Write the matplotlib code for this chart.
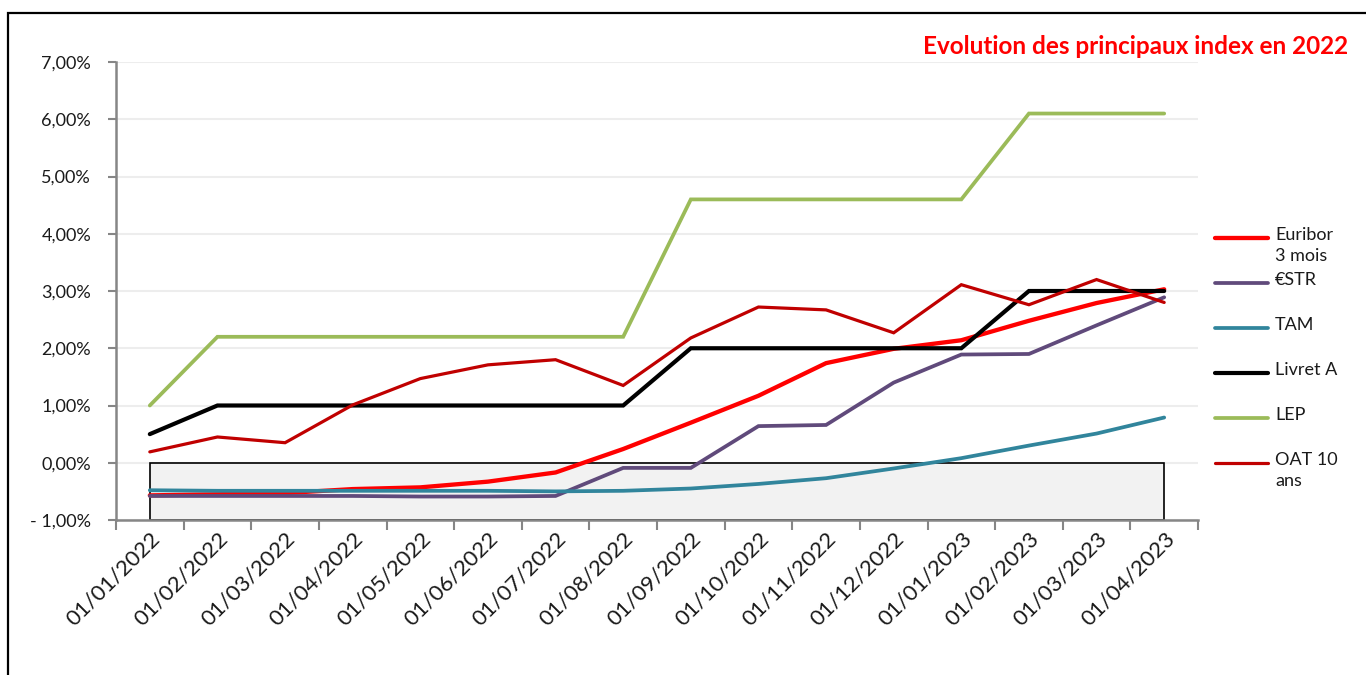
import matplotlib
matplotlib.use('agg')
import matplotlib.pyplot as plt
from matplotlib.patches import Rectangle
from matplotlib.lines import Line2D
import numpy as np

plt.rcParams['font.family'] = ['Lato', 'DejaVu Sans']

# Data (values in %)
dates = ['01/01/2022', '01/02/2022', '01/03/2022', '01/04/2022', '01/05/2022',
         '01/06/2022', '01/07/2022', '01/08/2022', '01/09/2022', '01/10/2022',
         '01/11/2022', '01/12/2022', '01/01/2023', '01/02/2023', '01/03/2023',
         '01/04/2023']

euribor_3m = [-0.57, -0.55, -0.53, -0.46, -0.43, -0.33, -0.17, 0.24, 0.70, 1.17,
              1.74, 1.99, 2.14, 2.48, 2.79, 3.03]
estr = [-0.58, -0.58, -0.58, -0.58, -0.59, -0.59, -0.58, -0.09, -0.09, 0.64,
        0.66, 1.40, 1.89, 1.90, 2.40, 2.89]
tam = [-0.48, -0.49, -0.49, -0.49, -0.49, -0.49, -0.50, -0.49, -0.45, -0.37,
       -0.27, -0.10, 0.08, 0.30, 0.51, 0.79]
livret_a = [0.5, 1.0, 1.0, 1.0, 1.0, 1.0, 1.0, 1.0, 2.0, 2.0,
            2.0, 2.0, 2.0, 3.0, 3.0, 3.0]
lep = [1.0, 2.2, 2.2, 2.2, 2.2, 2.2, 2.2, 2.2, 4.6, 4.6,
       4.6, 4.6, 4.6, 6.1, 6.1, 6.1]
oat_10 = [0.19, 0.45, 0.35, 1.01, 1.47, 1.71, 1.80, 1.35, 2.18, 2.72,
          2.67, 2.27, 3.11, 2.76, 3.20, 2.80]

series_labels = ['Euribor\n3 mois', '€STR', 'TAM', 'Livret A', 'LEP', 'OAT 10\nans']
series_values = [euribor_3m, estr, tam, livret_a, lep, oat_10]
series_colors = ['#FF0000', '#604A7B', '#31859C', '#000000', '#9BBB59', '#C00000']
series_widths = [3.1, 2.7, 2.7, 3.0, 2.7, 2.3]

# negative-rate band
band_low, band_high = -1.0, 0.0

y_ticks = [-1, 0, 1, 2, 3, 4, 5, 6, 7]
y_tick_labels = ['- 1,00%', '0,00%', '1,00%', '2,00%', '3,00%',
                 '4,00%', '5,00%', '6,00%', '7,00%']

W, H = 1366, 675
fig = plt.figure(figsize=(W / 100, H / 100), dpi=100)
ax = fig.add_axes([116 / W, 1 - 520 / H, 1082 / W, 458 / H])

x = np.arange(len(dates))

# shaded box below zero
ax.add_patch(Rectangle((x[0], band_low), x[-1] - x[0], band_high - band_low,
                       facecolor='#F2F2F2', edgecolor='black', linewidth=1.2,
                       zorder=1))

# draw order: red euribor ends up on top of the others
order = [4, 5, 3, 2, 1, 0]
for i in order:
    ax.plot(x, series_values[i], color=series_colors[i],
            linewidth=series_widths[i], zorder=3 + i * 0.1,
            solid_capstyle='round', solid_joinstyle='miter')

ax.set_xlim(-0.5, len(dates) - 0.5)
ax.set_ylim(-1, 7)

ax.set_yticks(y_ticks)
ax.set_yticklabels(y_tick_labels, fontsize=13, color='#1a1a1a')
ax.yaxis.grid(True, color='#EDEDED', linewidth=1.5, zorder=0)
ax.set_axisbelow(True)

ax.set_xticks(np.arange(-0.5, len(dates)), minor=False)
ax.set_xticklabels([])
ax.set_xticks(x, minor=True)
ax.set_xticklabels(dates, minor=True, rotation=45, ha='right', va='top',
                   rotation_mode='anchor', fontsize=16, color='#1a1a1a')
ax.tick_params(axis='x', which='minor', length=0, pad=6)
ax.tick_params(axis='x', which='major', length=7, width=1.5, color='#868686')
ax.tick_params(axis='y', length=6, width=1.5, color='#868686', pad=12)

for side in ['top', 'right']:
    ax.spines[side].set_visible(False)
for side in ['left', 'bottom']:
    ax.spines[side].set_color('#868686')
    ax.spines[side].set_linewidth(1.8)

# title
fig.text(1348 / W, 1 - 47 / H, 'Evolution des principaux index en 2022',
         color='#FF0000', fontsize=17.5, fontweight='bold', ha='right', va='center')

# legend drawn by hand to follow the original layout
leg_y = [238, 283, 328, 373, 418, 463]
for lab, col, lw, yy in zip(series_labels, series_colors, series_widths, leg_y):
    fig.add_artist(Line2D([1215 / W, 1268 / W], [1 - yy / H, 1 - yy / H],
                          color=col, linewidth=lw, solid_capstyle='round'))
    fig.text(1275 / W, 1 - (yy - 11) / H, lab, fontsize=13, color='#1a1a1a',
             ha='left', va='top', linespacing=1.35)

# outer frame
fig.add_artist(Rectangle((8 / W, -0.5), 2, 1.5 - 13 / H, transform=fig.transFigure,
                         fill=False, edgecolor='black', linewidth=1.6))

fig.savefig('out.png', dpi=100)
plt.close(fig)
